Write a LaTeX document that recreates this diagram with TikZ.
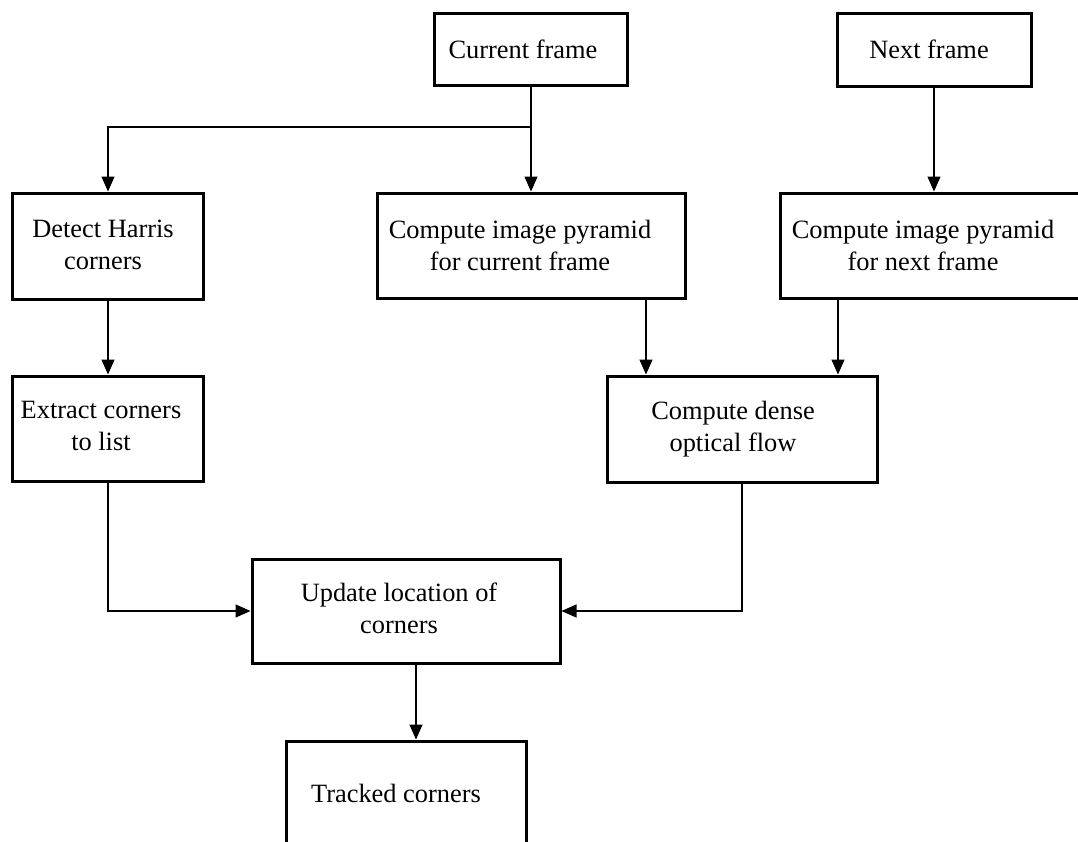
\documentclass[tikz,border=0pt]{standalone}
\usepackage{fontspec}
\setmainfont{Liberation Serif}
\usetikzlibrary{arrows.meta}
\begin{document}
\begin{tikzpicture}[x=0.5pt,y=-0.5pt,
  box/.style={draw,line width=1.5pt,inner sep=0pt,rectangle},
  txt/.style={inner sep=0pt,anchor=north,align=center,font=\fontsize{13.2pt}{16pt}\selectfont},
  conn/.style={line width=0.6pt},
  arr/.style={conn,-{Triangle[length=7.5pt,width=6.5pt]}}]
\useasboundingbox (0,0) rectangle (1078,842);
\clip (0,0) rectangle (1078,842);
% boxes
\node[box,minimum width=96.5pt,minimum height=36pt] (cur) at (531,49) {};
\node[box,minimum width=97pt,minimum height=36.5pt] (nxt) at (934,49.5) {};
\node[box,minimum width=95.5pt,minimum height=53pt] (har) at (108,246) {};
\node[box,minimum width=154pt,minimum height=52.5pt] (pcur) at (531,245.5) {};
\node[box,minimum width=151pt,minimum height=52.5pt] (pnxt) at (931,245.5) {};
\node[box,minimum width=95.5pt,minimum height=52.5pt] (ext) at (108,428.5) {};
\node[box,minimum width=135pt,minimum height=53pt] (flw) at (742,429) {};
\node[box,minimum width=154pt,minimum height=52pt] (upd) at (406,611) {};
\node[box,minimum width=120pt,minimum height=64.5pt] (trk) at (406,805.5) {};
% texts
\node[txt] (tcur) at (523,40) {Current frame};
\node[txt] (tnxt) at (929,40) {Next frame};
\node[txt] (thar) at (103,220) {Detect Harris\\corners};
\node[txt] (tpcur) at (520,220) {Compute image pyramid\\for current frame};
\node[txt] (tpnxt) at (923,220) {Compute image pyramid\\for next frame};
\node[txt] (text) at (101,401) {Extract corners\\to list};
\node[txt] (tflw) at (733,401) {Compute dense\\optical flow};
\node[txt] (tupd) at (399,583) {Update location of\\corners};
\node[txt] (ttrk) at (396,784) {Tracked corners};
% helper coordinates
\coordinate (j1) at (531,127);
\coordinate (x646) at (646,0);
\coordinate (x838) at (838,0);
\coordinate (x416) at (416,0);
% connectors
\draw[arr] (cur.south) -- (pcur.north);
\draw[arr] (j1) -| (har.north);
\draw[arr] (nxt.south) -- (nxt.south |- pnxt.north);
\draw[arr] (har.south) -- (ext.north);
\draw[arr] (pcur.south -| x646) -- (flw.north -| x646);
\draw[arr] (pnxt.south -| x838) -- (flw.north -| x838);
\draw[arr] (ext.south) |- (upd.west);
\draw[arr] (flw.south) |- (upd.east);
\draw[arr] (upd.south -| x416) -- (trk.north -| x416);
\end{tikzpicture}
\end{document}
